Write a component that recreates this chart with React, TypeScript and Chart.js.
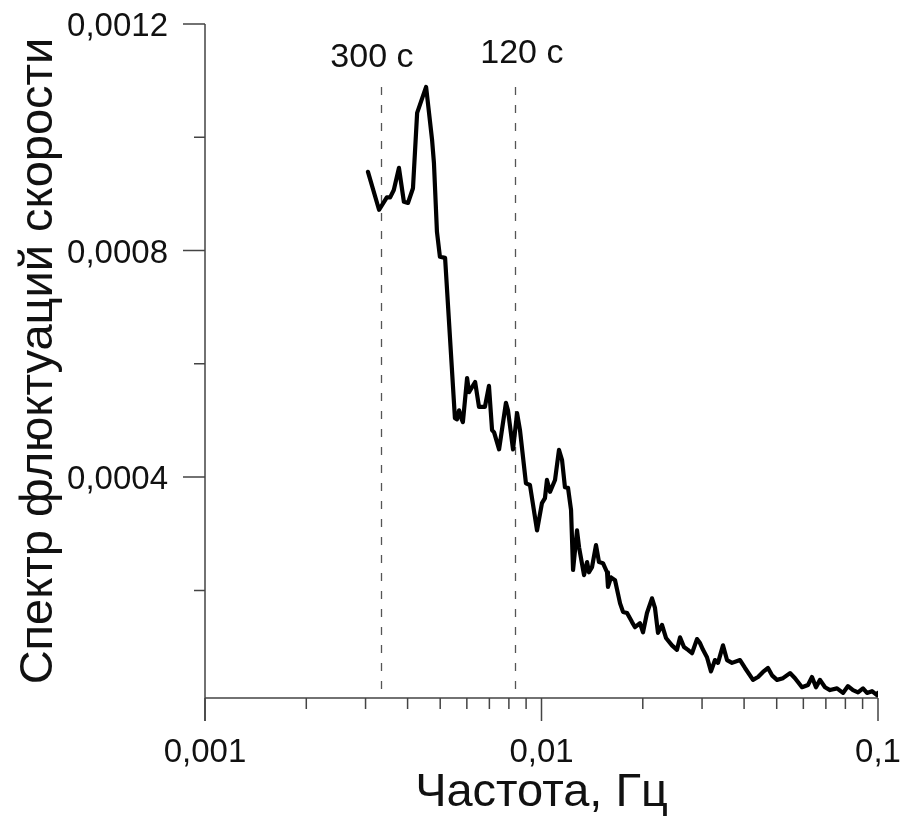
import { useEffect, useRef } from "react";
import { Chart, registerables } from "chart.js";

Chart.register(...registerables);

// Velocity-fluctuation spectrum: frequency (Hz) and spectral density
const frequencies = [
  0.00305, 0.00329, 0.00347, 0.00355, 0.00364, 0.00377, 0.0039, 0.00401, 0.00415, 0.00427,
  0.00454, 0.00473, 0.00479, 0.00489, 0.00499, 0.00517, 0.00553, 0.00561, 0.00569, 0.0058,
  0.00584, 0.00601, 0.00609, 0.00635, 0.00652, 0.00679, 0.00698, 0.00713, 0.00723, 0.00748,
  0.00784, 0.00795, 0.00823, 0.00846, 0.00863, 0.00899, 0.00924, 0.0097, 0.01003, 0.01024,
  0.01038, 0.0106, 0.01097, 0.01127, 0.01151, 0.01174, 0.01199, 0.01224, 0.01241, 0.01275,
  0.01293, 0.01338, 0.01366, 0.01384, 0.01413, 0.01452, 0.01482, 0.01523, 0.01566, 0.01576,
  0.01609, 0.01654, 0.01712, 0.01747, 0.01796, 0.01858, 0.01896, 0.01962, 0.02003, 0.02058,
  0.0213, 0.02174, 0.02219, 0.02281, 0.02344, 0.02442, 0.02527, 0.0258, 0.02651, 0.02725,
  0.02801, 0.02898, 0.02958, 0.0302, 0.03103, 0.03189, 0.03278, 0.03346, 0.03462, 0.03559,
  0.03683, 0.0389, 0.04025, 0.04251, 0.044, 0.04553, 0.04711, 0.04842, 0.05011, 0.05221,
  0.05477, 0.05667, 0.05945, 0.06194, 0.06366, 0.06542, 0.06724, 0.06958, 0.072, 0.07554,
  0.0787, 0.08143, 0.08427, 0.08721, 0.09024, 0.09276, 0.09598, 0.09931, 0.1,
];

const spectrum = [
  9.39e-4, 8.72e-4, 8.94e-4, 8.94e-4, 9.07e-4, 9.46e-4, 8.86e-4, 8.84e-4, 9.1e-4, 10.43e-4,
  10.89e-4, 9.95e-4, 9.55e-4, 8.33e-4, 7.89e-4, 7.87e-4, 5.04e-4, 5.02e-4, 5.18e-4, 5.01e-4,
  4.97e-4, 5.75e-4, 5.5e-4, 5.68e-4, 5.24e-4, 5.24e-4, 5.61e-4, 4.83e-4, 4.79e-4, 4.49e-4,
  5.31e-4, 5.18e-4, 4.49e-4, 5.13e-4, 4.83e-4, 3.89e-4, 3.86e-4, 3.06e-4, 3.54e-4, 3.63e-4,
  3.95e-4, 3.74e-4, 3.95e-4, 4.48e-4, 4.3e-4, 3.82e-4, 3.81e-4, 3.42e-4, 2.36e-4, 3.06e-4,
  2.76e-4, 2.27e-4, 2.5e-4, 2.32e-4, 2.41e-4, 2.8e-4, 2.5e-4, 2.48e-4, 2.32e-4, 2.06e-4,
  2.23e-4, 2.18e-4, 1.77e-4, 1.62e-4, 1.6e-4, 1.44e-4, 1.35e-4, 1.42e-4, 1.26e-4, 1.6e-4,
  1.86e-4, 1.69e-4, 1.25e-4, 1.39e-4, 1.16e-4, 1.03e-4, 0.95e-4, 1.17e-4, 1.0e-4, 0.95e-4,
  0.89e-4, 1.14e-4, 1.07e-4, 0.95e-4, 0.82e-4, 0.57e-4, 0.77e-4, 0.72e-4, 1.03e-4, 0.77e-4,
  0.72e-4, 0.77e-4, 0.63e-4, 0.42e-4, 0.47e-4, 0.56e-4, 0.63e-4, 0.5e-4, 0.42e-4, 0.45e-4,
  0.54e-4, 0.45e-4, 0.29e-4, 0.33e-4, 0.47e-4, 0.29e-4, 0.42e-4, 0.29e-4, 0.24e-4, 0.27e-4,
  0.19e-4, 0.31e-4, 0.24e-4, 0.2e-4, 0.27e-4, 0.19e-4, 0.22e-4, 0.15e-4, 0.19e-4,
];

// Reference periods marked with dashed lines (seconds)
const markerPeriods = [300, 120];
const markerLabels = ["300 с", "120 с"];

const xMajorTicks = [0.001, 0.01, 0.1];
const xTickLabels = ["0,001", "0,01", "0,1"];
const xMinorTicks = [
  0.002, 0.003, 0.004, 0.005, 0.006, 0.007, 0.008, 0.009,
  0.02, 0.03, 0.04, 0.05, 0.06, 0.07, 0.08, 0.09,
];
const yMajorTicks = [0.0004, 0.0008, 0.0012];
const yTickLabels = ["0,0004", "0,0008", "0,0012"];
const yMinorTicks = [0.0002, 0.0006, 0.001];

const xRange = [0.001, 0.1];
const yRange = [0.00001, 0.0012];

const xTitle = "Частота, Гц";
const yTitle = "Спектр флюктуаций скорости";

const FONT = '"Liberation Sans", Arial, sans-serif';
const AXIS_COLOR = "#444";

const axesPlugin = {
  id: "spectrumAxes",
  beforeDatasetsDraw(chart: any) {
    const { ctx } = chart;
    const xs = chart.scales.x;
    const ys = chart.scales.y;
    const x0 = xs.getPixelForValue(xRange[0]);
    const x1 = xs.getPixelForValue(xRange[1]);
    const y0 = ys.getPixelForValue(yRange[0]);
    const yTop = ys.getPixelForValue(yRange[1]);
    const majorLen = 23;
    const minorLen = 11;

    ctx.save();
    // dashed period markers
    ctx.strokeStyle = "#555";
    ctx.lineWidth = 1.3;
    ctx.setLineDash([8, 10]);
    markerPeriods.forEach((p) => {
      const x = Math.round(xs.getPixelForValue(1 / p)) + 0.5;
      ctx.beginPath();
      ctx.moveTo(x, 87);
      ctx.lineTo(x, y0);
      ctx.stroke();
    });
    ctx.setLineDash([]);

    // axis lines
    ctx.strokeStyle = AXIS_COLOR;
    ctx.lineWidth = 1.5;
    ctx.beginPath();
    ctx.moveTo(x0, yTop);
    ctx.lineTo(x0, y0 + majorLen);
    ctx.moveTo(x0, y0);
    ctx.lineTo(x1, y0);
    ctx.stroke();

    // x ticks (outside, downward)
    ctx.beginPath();
    xMajorTicks.forEach((v) => {
      const x = xs.getPixelForValue(v);
      ctx.moveTo(x, y0);
      ctx.lineTo(x, y0 + majorLen);
    });
    xMinorTicks.forEach((v) => {
      const x = xs.getPixelForValue(v);
      ctx.moveTo(x, y0);
      ctx.lineTo(x, y0 + minorLen);
    });
    // y ticks (outside, leftward)
    yMajorTicks.forEach((v) => {
      const y = ys.getPixelForValue(v);
      ctx.moveTo(x0, y);
      ctx.lineTo(x0 - majorLen + 1, y);
    });
    yMinorTicks.forEach((v) => {
      const y = ys.getPixelForValue(v);
      ctx.moveTo(x0, y);
      ctx.lineTo(x0 - minorLen, y);
    });
    ctx.stroke();
    ctx.restore();
  },
  afterDraw(chart: any) {
    const { ctx } = chart;
    const xs = chart.scales.x;
    const ys = chart.scales.y;
    const x0 = xs.getPixelForValue(xRange[0]);
    const y0 = ys.getPixelForValue(yRange[0]);

    ctx.save();
    ctx.fillStyle = "#111";
    ctx.textBaseline = "alphabetic";

    // tick labels
    ctx.font = `33px ${FONT}`;
    ctx.textAlign = "right";
    yMajorTicks.forEach((v, i) => {
      ctx.fillText(yTickLabels[i], x0 - 37, ys.getPixelForValue(v) + 12);
    });
    ctx.textAlign = "center";
    xMajorTicks.forEach((v, i) => {
      ctx.fillText(xTickLabels[i], xs.getPixelForValue(v), y0 + 64);
    });

    // period marker labels
    ctx.font = `34px ${FONT}`;
    const labelShift = [-9, 7];
    const labelBase = [67, 63];
    markerPeriods.forEach((p, i) => {
      ctx.fillText(markerLabels[i], xs.getPixelForValue(1 / p) + labelShift[i], labelBase[i]);
    });

    // axis titles
    ctx.font = `47px ${FONT}`;
    ctx.textAlign = "center";
    ctx.fillText(xTitle, (xs.left + xs.right) / 2, 806);

    ctx.translate(52, 361);
    ctx.rotate(-Math.PI / 2);
    ctx.fillText(yTitle, 0, 0);
    ctx.restore();
  },
};

export default function App() {
  const canvasRef = useRef<HTMLCanvasElement | null>(null);

  useEffect(() => {
    if (!canvasRef.current) return;
    const chart = new Chart(canvasRef.current, {
      type: "line",
      data: {
        datasets: [
          {
            data: frequencies.map((f, i) => ({ x: f, y: spectrum[i] })),
            borderColor: "#000",
            borderWidth: 4.2,
            borderJoinStyle: "round",
            borderCapStyle: "round",
            pointRadius: 0,
            tension: 0,
            fill: false,
          },
        ],
      },
      options: {
        responsive: false,
        maintainAspectRatio: false,
        animation: false,
        layout: { padding: { left: 0, top: 24, right: 22, bottom: 0 } },
        plugins: {
          legend: { display: false },
          tooltip: { enabled: false },
          title: { display: false },
        },
        scales: {
          x: {
            type: "logarithmic",
            min: xRange[0],
            max: xRange[1],
            grid: { display: false },
            border: { display: false },
            ticks: { display: false },
            afterFit: (s: any) => {
              s.height = 122;
            },
          },
          y: {
            type: "linear",
            min: yRange[0],
            max: yRange[1],
            grid: { display: false },
            border: { display: false },
            ticks: { display: false },
            afterFit: (s: any) => {
              s.width = 205;
            },
          },
        },
      },
      plugins: [axesPlugin],
    });
    return () => chart.destroy();
  }, []);

  return (
    <div style={{ position: "absolute", left: 0, top: 0, width: 900, height: 820, background: "#fff" }}>
      <canvas ref={canvasRef} width={900} height={820} style={{ display: "block" }} />
    </div>
  );
}
